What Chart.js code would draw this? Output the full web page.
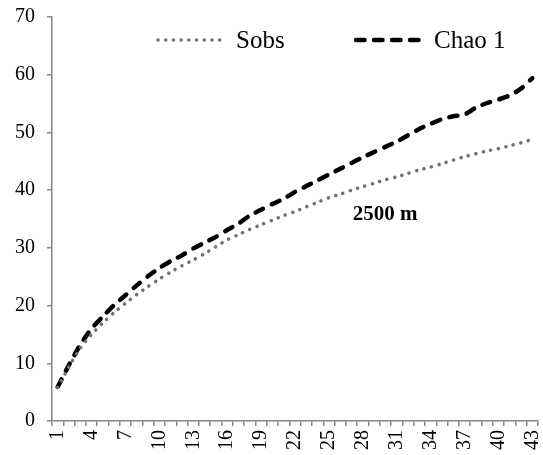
<!DOCTYPE html>
<html><head><meta charset="utf-8">
<script src="https://cdn.jsdelivr.net/npm/chart.js@4.4.0/dist/chart.umd.min.js"></script>
<style>html,body{margin:0;padding:0;background:#fff}#wrap{width:543px;height:455px}</style>
</head><body><div id="wrap"><canvas id="c" width="543" height="455"></canvas></div>
<script>
const categories = ["1","2","3","4","5","6","7","8","9","10","11","12","13","14","15","16","17","18","19","20","21","22","23","24","25","26","27","28","29","30","31","32","33","34","35","36","37","38","39","40","41","42","43"];
const sobs = [5.8,9.4,12.6,15.0,17.0,18.8,20.4,21.9,23.3,24.6,25.8,26.9,27.9,29.0,30.2,31.4,32.3,33.2,34.0,34.8,35.6,36.3,37.1,37.9,38.7,39.3,40.0,40.6,41.2,41.8,42.3,42.9,43.5,44.0,44.6,45.2,45.8,46.3,46.8,47.2,47.7,48.2,48.8];
const chao1 = [5.9,9.7,13.2,16.0,18.1,20.1,21.8,23.5,25.1,26.5,27.7,28.7,29.9,30.9,31.9,33.1,34.2,35.6,36.6,37.6,38.5,39.7,40.7,41.7,42.7,43.7,44.7,45.7,46.6,47.5,48.4,49.5,50.6,51.5,52.3,52.8,53.1,54.3,55.1,55.7,56.4,57.6,59.4];
const seriesNames = ["Sobs","Chao 1"];
const yMin = 0, yMax = 70, yStep = 10;
const xLabelEvery = 3;
const annotationText = "2500 m";

const FONT = '"Liberation Serif","Times New Roman",serif';
const AXIS = '#878787';

const overlay = {
  id: 'overlay',
  afterDraw(chart) {
    const ctx = chart.ctx;
    ctx.save();
    const items = [
      {ds: 0, x1: 158, len: 69},
      {ds: 1, x1: 356, len: 69}
    ];
    const ly = 40;
    items.forEach(it => {
      const ds = chart.data.datasets[it.ds];
      ctx.beginPath();
      ctx.strokeStyle = ds.borderColor;
      ctx.lineWidth = ds.borderWidth;
      ctx.lineCap = 'round';
      ctx.setLineDash(ds.borderDash);
      ctx.moveTo(it.x1, ly);
      ctx.lineTo(it.x1 + it.len, ly);
      ctx.stroke();
      ctx.setLineDash([]);
      ctx.fillStyle = '#000';
      ctx.font = '25px ' + FONT;
      ctx.textBaseline = 'middle';
      ctx.textAlign = 'left';
      ctx.fillText(ds.label, it.x1 + it.len + 9, ly + 1);
    });
    const xs = chart.scales.x, ys = chart.scales.y;
    ctx.font = 'bold 21px ' + FONT;
    ctx.textAlign = 'center';
    ctx.textBaseline = 'middle';
    ctx.fillStyle = '#000';
    ctx.fillText(annotationText, xs.getPixelForValue(28.97), ys.getPixelForValue(35.7));
    ctx.restore();
  }
};

new Chart(document.getElementById('c'), {
  type: 'line',
  data: {
    labels: categories,
    datasets: [
      {label: seriesNames[0], data: sobs, borderColor: '#707070', borderWidth: 3.5, borderDash: [0.1, 7.6], borderCapStyle: 'round', pointRadius: 0, tension: 0.25, fill: false},
      {label: seriesNames[1], data: chao1, borderColor: '#000000', borderWidth: 4.5, borderDash: [8.5, 9.5], borderCapStyle: 'round', pointRadius: 0, tension: 0.25, fill: false}
    ]
  },
  options: {
    responsive: false,
    animation: false,
    devicePixelRatio: 1,
    layout: {padding: {left: 0, right: 5, top: 17, bottom: 0}},
    plugins: {legend: {display: false}, tooltip: {enabled: false}},
    scales: {
      x: {
        type: 'category',
        offset: true,
        grid: {offset: true, drawOnChartArea: false, drawTicks: true, tickLength: 5, color: AXIS, lineWidth: 1.5},
        border: {color: AXIS, width: 1.5},
        ticks: {
          autoSkip: false, minRotation: 90, maxRotation: 90, padding: 4,
          color: '#000', font: {family: FONT, size: 20},
          callback: function(v, i) { return (i % xLabelEvery === 0) ? this.getLabelForValue(v) : ''; }
        },
        afterFit(s) { s.height = 34; s.paddingLeft = 0; s.paddingRight = 0; }
      },
      y: {
        min: yMin, max: yMax,
        grid: {drawOnChartArea: false, drawTicks: true, tickLength: 5, color: AXIS, lineWidth: 1.5},
        border: {color: AXIS, width: 1.5},
        ticks: {stepSize: yStep, padding: 12, color: '#000', font: {family: FONT, size: 20}},
        afterFit(s) { s.width = 52; s.paddingTop = 0; s.paddingBottom = 0; }
      }
    }
  },
  plugins: [overlay]
});
</script>
</body></html>
